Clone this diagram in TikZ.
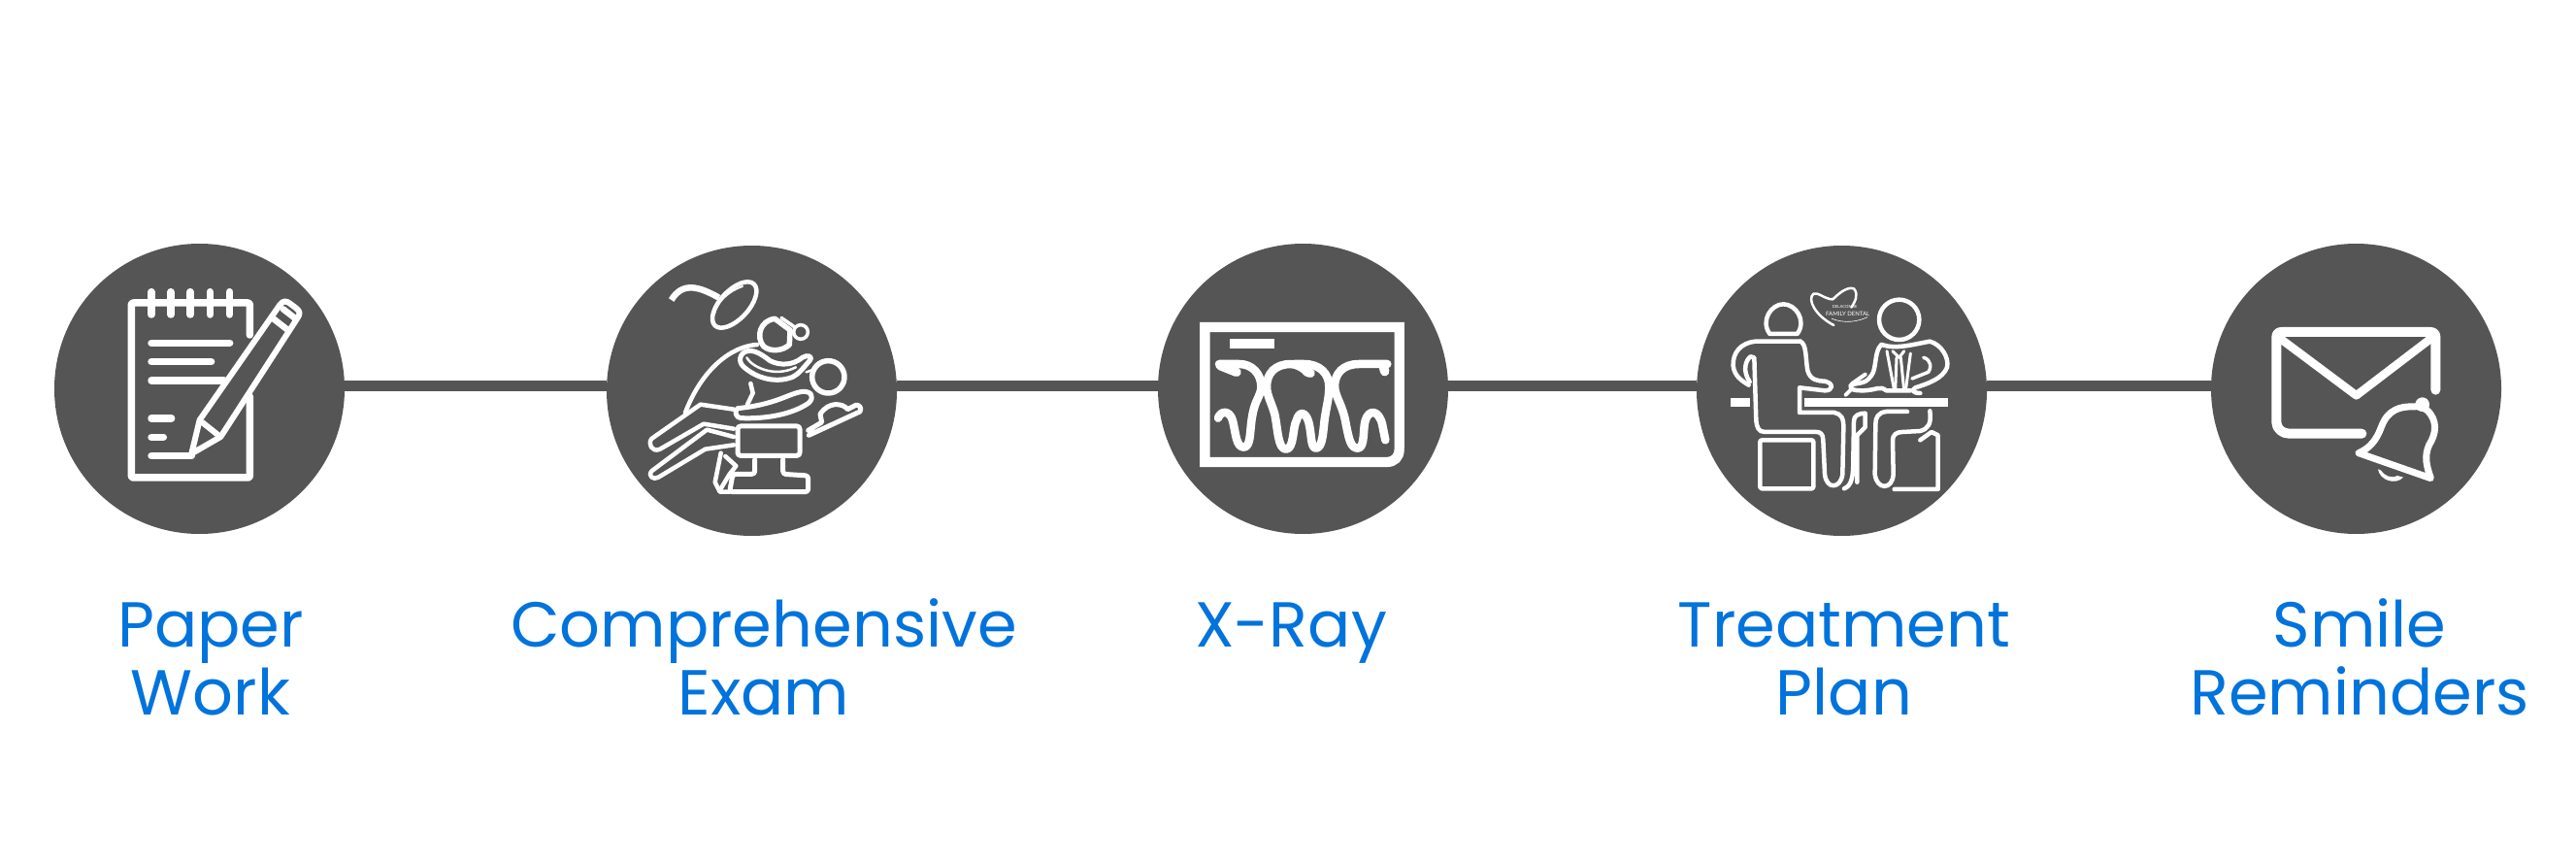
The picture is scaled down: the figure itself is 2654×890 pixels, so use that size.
\documentclass[tikz,border=0pt]{standalone}
\usepackage{fontspec}
\setmainfont{Poppins}
\newfontfamily\logofont{Lato}
\definecolor{disc}{HTML}{555555}
\definecolor{lbl}{HTML}{0073DC}
\tikzset{
  stepdisc/.style={circle,fill=disc,draw=none,inner sep=0pt,minimum size=299pt},
  conn/.style={draw=disc,line width=11pt},
  lab/.style={text=lbl,font=\fontsize{65.5}{70}\selectfont,align=center,anchor=base},
  ic/.style={draw=white,line cap=round,line join=round,line width=#1pt},
  ic/.default=6,
  zoomA/.style={x=0.33333pt,y=-0.33333pt},
}
\begin{document}
\begin{tikzpicture}[x=1pt,y=-1pt]
\fill[white] (0,0) rectangle (2654,890);
\useasboundingbox (0,0) rectangle (2654,890);
\coordinate (ly) at (0,397);
\node[stepdisc] (c1) at (205.5,400.5) {};
\node[stepdisc] (c2) at (774.5,402.5) {};
\node[stepdisc] (c3) at (1342.5,400.5) {};
\node[stepdisc] (c4) at (1897.5,402.5) {};
\node[stepdisc] (c5) at (2427.5,400.5) {};
\draw[conn] (c1.east |- ly) -- (c2.west |- ly);
\draw[conn] (c2.east |- ly) -- (c3.west |- ly);
\draw[conn] (c3.east |- ly) -- (c4.west |- ly);
\draw[conn] (c4.east |- ly) -- (c5.west |- ly);
\node[lab] (t1a) at (217,666) {Paper};
\node[lab] (t1b) at (217,736) {Work};
\node[lab] (t2a) at (787,666) {Comprehensive};
\node[lab] (t2b) at (787,736) {Exam};
\node[lab] (t3a) at (1330,666) {X-Ray};
\node[lab] (t4a) at (1900,666) {Treatment};
\node[lab] (t4b) at (1900,736) {Plan};
\node[lab] (t5a) at (2431,666) {Smile};
\node[lab] (t5b) at (2431,736) {Reminders};
% ---- notepad
\begin{scope}[shift={(40,240)},zoomA]
\draw[ic=7.5,rounded corners=2pt] (652,315) -- (652,216) -- (286,216) -- (286,756) -- (652,756) -- (652,505);
\foreach \xx in {348,408,468,529,590} \draw[ic=7.5] (\xx,182) -- (\xx,252);
\draw[ic=7.5] (348,340) -- (590,340);
\draw[ic=7.5] (348,398) -- (533,398);
\draw[ic=7.5] (348,456) -- (572,456);
\draw[ic=7.5] (348,573) -- (410,573);
\draw[ic=7.5] (348,631) -- (385,631);
\draw[ic=7.5] (348,689) -- (472,689);
\draw[ic=6] (472,682) -- (497,578) -- (745,222) .. controls (755,208) and (765,210) .. (775,217) -- (795,232) .. controls (808,242) and (808,250) .. (800,262) -- (562,630) -- (472,682);
\draw[ic=6] (505,585) -- (555,625);
\draw[ic=6.5] (725,265) -- (770,300);
\draw[ic=6.5] (755,235) -- (790,262);
\end{scope}
% ---- dental chair
\begin{scope}[shift={(610,240)},zoomA]
\draw[ic=6.5,line cap=butt] (245,207) .. controls (280,150) and (330,165) .. (392,200);
\draw[ic=4.5,rotate around={47:(440,222)}] (440,222) ellipse [x radius=88,y radius=44];
\draw[ic=2] (378,250) .. controls (385,215) and (420,180) .. (465,165);
\draw[ic=5.5] (565,265) .. controls (520,270) and (505,320) .. (530,350) .. controls (550,368) and (590,365) .. (610,345) -- (612,300) -- (565,265);
\draw[ic=3.5] (585,262) -- (625,290);
\draw[ic=3.5] (645,306) circle [radius=22];
\draw[ic=4.5] (510,345) .. controls (430,350) and (340,420) .. (288,555);
\draw[ic=4.5] (490,465) -- (497,495) -- (480,530);
\draw[ic=5] (480,365) .. controls (455,370) and (450,400) .. (470,415) .. controls (510,450) and (570,465) .. (620,445) .. controls (640,435) and (650,420) .. (672,395) .. controls (685,380) and (665,375) .. (650,385) .. controls (620,410) and (580,410) .. (550,395) .. controls (525,375) and (500,360) .. (480,365);
\draw[ic=2.5] (478,385) .. controls (490,410) and (560,450) .. (630,415);
\draw[ic=5.5] (730,445) circle [radius=50];
\draw[ic=2.5] (662,430) -- (690,420);
\draw[ic=5] (450,542) .. controls (438,550) and (445,572) .. (460,572) .. controls (540,575) and (620,560) .. (670,525) .. controls (690,505) and (675,488) .. (650,490) .. controls (610,495) and (570,530) .. (450,542);
\draw[ic=5] (670,625) -- (828,552) .. controls (835,540) and (825,530) .. (815,532) -- (790,545) .. controls (775,525) and (730,520) .. (705,560) -- (710,585) -- (668,610);
\draw[ic=5,rounded corners=3pt] (450,597) rectangle (642,688);
\draw[ic=4.5] (438,545) -- (335,530) -- (185,635) .. controls (170,650) and (185,680) .. (210,668) -- (345,590) -- (438,605);
\draw[ic=4.5] (438,630) -- (355,608) -- (185,735) .. controls (170,750) and (190,765) .. (205,755) -- (350,668) -- (438,655);
\draw[ic=5,rounded corners=3pt] (503,700) -- (503,745) -- (435,745) -- (425,800) -- (668,800) -- (668,750) -- (590,745) -- (590,700);
\draw[ic=4.5] (398,680) -- (380,770) -- (395,800) -- (425,800);
\draw[ic=4.5] (412,690) -- (445,720) -- (425,745) -- (395,795);
\end{scope}
% ---- x-ray
\begin{scope}[shift={(1170,240)},zoomA]
\draw[ic=10.3,line join=miter,line cap=butt] (815,668) -- (815,291) -- (214,291) -- (214,708) -- (775,708) .. controls (800,708) and (815,693) .. (815,668);
\fill[white] (292,328) rectangle (430,358);
\begin{scope}[every path/.style={ic=8.5}]
\draw (255,572) .. controls (262,550) and (290,545) .. (300,580) .. controls (310,620) and (310,662) .. (335,662) .. controls (360,660) and (350,600) .. (365,545) .. controls (372,515) and (388,500) .. (388,475) .. controls (388,435) and (360,405) .. (320,405) -- (258,405);
\draw (405,475) .. controls (405,435) and (430,405) .. (480,405) .. controls (500,405) and (520,420) .. (535,432);
\draw (405,475) .. controls (405,500) and (420,525) .. (430,560) .. controls (440,610) and (440,668) .. (465,668) .. controls (490,668) and (485,600) .. (497,580) .. controls (505,550) and (525,550) .. (535,585) .. controls (545,625) and (540,665) .. (558,665) .. controls (580,665) and (580,600) .. (585,570) .. controls (590,535) and (598,510) .. (598,475) .. controls (598,435) and (570,405) .. (520,405) -- (490,405);
\draw (615,475) .. controls (615,435) and (640,405) .. (690,405) -- (778,405);
\draw (615,475) .. controls (618,510) and (640,530) .. (650,590) .. controls (660,640) and (665,665) .. (687,665) .. controls (710,665) and (702,600) .. (710,580) .. controls (720,545) and (750,545) .. (762,590) -- (772,640);
\draw[ic=9.5] (262,410) -- (312,430);
\draw[ic=9.5] (528,428) -- (540,433);
\draw[ic=9.5] (765,408) -- (770,428);
\end{scope}
\end{scope}
% ---- treatment plan
\begin{scope}[shift={(1730,240)},zoomA]
\draw[ic=4.5] (280,312) -- (365,312) .. controls (395,270) and (360,220) .. (322,220) .. controls (285,220) and (250,270) .. (280,312);
\draw[ic=4.5] (375,335) -- (235,335) .. controls (190,340) and (165,370) .. (167,410) .. controls (170,440) and (190,455) .. (215,470);
\draw[ic=4.5] (375,335) .. controls (395,345) and (390,390) .. (397,425) .. controls (405,455) and (430,458) .. (450,458) .. controls (480,465) and (475,488) .. (450,487) -- (372,478) -- (372,555) -- (480,555) .. controls (500,560) and (508,570) .. (508,600) -- (505,745) .. controls (500,790) and (455,795) .. (450,745) -- (445,640) .. controls (445,620) and (435,615) .. (425,615) -- (265,615) .. controls (245,615) and (240,600) .. (238,580) -- (232,385) -- (220,382) .. controls (205,395) and (195,425) .. (218,460);
\draw[ic=4.5,rounded corners=2pt] (250,640) rectangle (415,790);
\fill[white] (160,510) rectangle (220,537);
\fill[white] (388,510) rectangle (830,537);
\draw[ic=4.5] (680,268) circle [radius=62];
\draw[ic=4.5] (625,345) .. controls (605,365) and (610,400) .. (600,430) .. controls (580,470) and (560,460) .. (530,470) .. controls (525,485) and (545,487) .. (565,487) .. controls (610,487) and (620,470) .. (640,487) -- (715,487);
\draw[ic=4.5] (625,345) .. controls (670,360) and (720,345) .. (775,335) .. controls (810,345) and (835,385) .. (828,415) .. controls (815,450) and (770,465) .. (730,478) .. controls (715,487) and (725,495) .. (745,495);
\draw[ic=3.5] (755,385) .. controls (780,390) and (780,420) .. (770,430) -- (720,450);
\draw[ic=3] (642,365) -- (665,487);
\draw[ic=3] (660,365) -- (680,385) -- (695,365);
\draw[ic=3] (672,385) -- (668,487);
\draw[ic=3] (685,385) -- (695,487);
\draw[ic=3] (715,372) -- (700,487);
\draw[ic=4] (575,437) -- (535,465);
\draw[ic=4] (515,500) -- (530,485);
\draw[ic=4.5] (510,790) .. controls (535,780) and (538,750) .. (538,700) -- (540,580) .. controls (540,565) and (555,557) .. (575,557) -- (575,600) -- (550,625) -- (550,770);
\draw[ic=4.5] (705,552) -- (640,552) .. controls (615,555) and (607,570) .. (607,590) -- (605,745) .. controls (610,795) and (660,795) .. (662,745) -- (660,640) .. controls (660,625) and (670,615) .. (690,615) -- (745,612) .. controls (770,605) and (780,590) .. (775,550);
\draw[ic=4.5] (665,792) -- (800,792) -- (800,625) -- (780,615) -- (745,640);
\draw[ic=2.5] (475,205) .. controls (450,205) and (430,182) .. (415,188) .. controls (395,205) and (420,255) .. (478,285);
\draw[ic=2.5] (475,205) .. controls (495,185) and (520,165) .. (540,172) .. controls (555,190) and (545,210) .. (532,230);
\draw[ic=0.6] (472,265) .. controls (510,280) and (550,275) .. (582,260);
\node[text=white,font=\logofont\fontsize{4.2}{5}\selectfont,inner sep=0pt] (lg1) at (512,229) {DELACOMBE};
\node[text=white,font=\logofont\fontsize{6}{7}\selectfont,inner sep=0pt] (lg2) at (521,249) {FAMILY DENTAL};
\end{scope}
% ---- reminders
\begin{scope}[shift={(2260,240)},zoomA]
\draw[ic=10] (748,485) -- (748,322) .. controls (748,312) and (742,306) .. (732,306) -- (272,306) .. controls (262,306) and (256,312) .. (256,322) -- (256,585) .. controls (256,605) and (275,620) .. (295,620) -- (520,620);
\draw[ic=8.5] (270,328) -- (503,502) -- (735,325);
\draw[ic=7] (510,680) -- (733,758) .. controls (720,720) and (712,690) .. (728,655) .. controls (750,620) and (755,580) .. (722,548) .. controls (705,535) and (690,535) .. (680,537) .. controls (640,535) and (600,545) .. (580,600) .. controls (565,640) and (545,665) .. (510,680);
\fill[white] (707,530) circle [radius=22];
\fill[white] (570,730) .. controls (575,765) and (625,780) .. (648,755) -- (630,750) .. controls (610,760) and (590,750) .. (578,733) -- cycle;
\end{scope}
\end{tikzpicture}
\end{document}
